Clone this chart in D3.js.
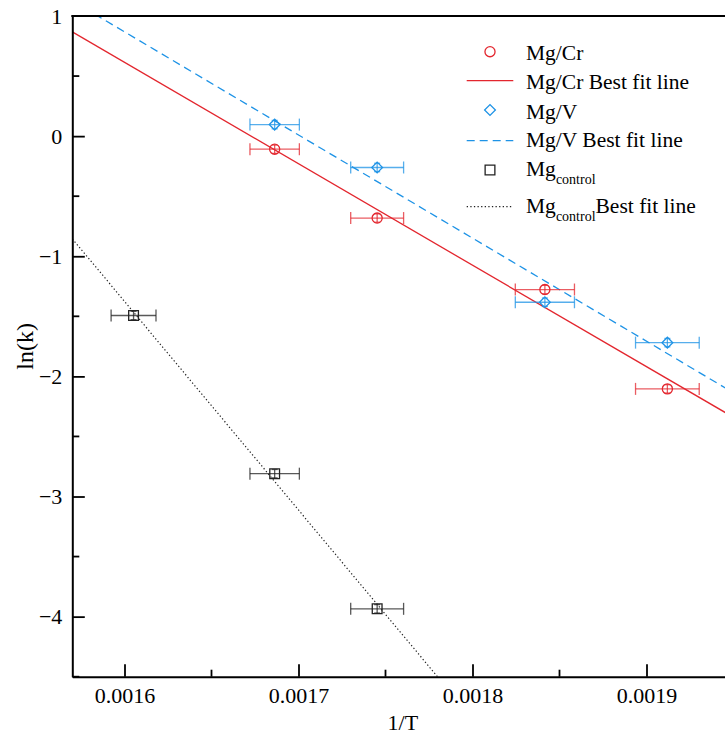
<!DOCTYPE html>
<html>
<head>
<meta charset="utf-8">
<script src="https://cdn.jsdelivr.net/npm/d3@7"></script>
<style>
  html, body { margin: 0; padding: 0; background: #fff; }
  svg { display: block; }
  svg text { font-family: "Liberation Serif", "Times New Roman", serif; }
</style>
</head>
<body>
<svg id="chart" width="725" height="735"></svg>
<script>
// Arrhenius data: 1/T (K^-1) against ln(k)
const crInvT = [0.0016863, 0.0017452, 0.0018416, 0.0019120];
const crLnK  = [-0.109, -0.682, -1.277, -2.104];
const crErrX = [0.0000142, 0.0000152, 0.0000170, 0.0000183];

const vInvT = [0.0016863, 0.0017452, 0.0018416, 0.0019120];
const vLnK  = [0.096, -0.261, -1.383, -1.719];
const vErrX = [0.0000142, 0.0000152, 0.0000170, 0.0000183];

const ctlInvT = [0.0016052, 0.0016863, 0.0017452];
const ctlLnK  = [-1.493, -2.810, -3.935];
const ctlErrX = [0.0000129, 0.0000142, 0.0000152];

const lnKErr = 0.035;

const xTicks = [0.0016, 0.0017, 0.0018, 0.0019];
const xMinorTicks = [0.00165, 0.00175, 0.00185];
const yTicks = [-4, -3, -2, -1, 0, 1];
const yMinorTicks = [-4.5, -3.5, -2.5, -1.5, -0.5, 0.5];

const RED = "#e3262e";
const BLUE = "#1e93e6";
const BLACK = "#222";
const SERIF = "Liberation Serif";

const svg = d3.select("#chart");
const plotL = 72.3, plotR = 733.5, plotT = 16, plotB = 676.7;

const x = d3.scaleLinear().domain([0.00157, 0.00195]).range([plotL, plotR]);
const y = d3.scaleLinear().domain([-4.5, 1]).range([plotB, plotT]);

svg.append("defs").append("clipPath").attr("id", "plot")
  .append("rect").attr("x", plotL).attr("y", plotT)
  .attr("width", plotR - plotL).attr("height", plotB - plotT);

// least-squares fit of ln(k) on 1/T
function fit(xs, ys) {
  const mx = d3.mean(xs), my = d3.mean(ys);
  let sxy = 0, sxx = 0;
  xs.forEach((v, i) => { sxy += (v - mx) * (ys[i] - my); sxx += (v - mx) ** 2; });
  const slope = sxy / sxx;
  return t => my + slope * (t - mx);
}

const series = [
  { xs: crInvT, ys: crLnK, ex: crErrX, color: RED, shape: "circle", dash: null, width: 1.3 },
  { xs: vInvT, ys: vLnK, ex: vErrX, color: BLUE, shape: "diamond", dash: "8,5", width: 1.3 },
  { xs: ctlInvT, ys: ctlLnK, ex: ctlErrX, color: BLACK, shape: "square", dash: "1.3,2.3", width: 1.2 }
];

const lines = svg.append("g").attr("clip-path", "url(#plot)");
series.forEach(s => {
  const f = fit(s.xs, s.ys);
  const dom = x.domain();
  lines.append("line")
    .attr("x1", x(dom[0])).attr("y1", y(f(dom[0])))
    .attr("x2", x(dom[1])).attr("y2", y(f(dom[1])))
    .attr("stroke", s.color).attr("stroke-width", s.width)
    .attr("stroke-dasharray", s.dash);
});

// markers: circle, square, and a square turned 45 degrees for the diamond
const symbols = {
  circle: { path: d3.symbol().type(d3.symbolCircle).size(80)(), rot: 0 },
  diamond: { path: d3.symbol().type(d3.symbolSquare).size(58)(), rot: 45 },
  square: { path: d3.symbol().type(d3.symbolSquare).size(95)(), rot: 0 }
};

function drawMarker(g, shape, cx, cy, color) {
  g.append("path").attr("d", symbols[shape].path)
    .attr("transform", `translate(${cx},${cy}) rotate(${symbols[shape].rot})`)
    .attr("fill", "none").attr("stroke", color).attr("stroke-width", 1.3);
}

const pts = svg.append("g");
series.forEach(s => {
  s.xs.forEach((v, i) => {
    const cx = x(v), cy = y(s.ys[i]);
    const x0 = x(v - s.ex[i]), x1 = x(v + s.ex[i]);
    const eg = pts.append("g").attr("stroke", s.color).attr("stroke-width", 1.3).attr("stroke-opacity", 0.75);
    eg.append("line").attr("x1", x0).attr("x2", x1).attr("y1", cy).attr("y2", cy);
    eg.append("line").attr("x1", x0).attr("x2", x0).attr("y1", cy - 6).attr("y2", cy + 6);
    eg.append("line").attr("x1", x1).attr("x2", x1).attr("y1", cy - 6).attr("y2", cy + 6);
    const y0 = y(s.ys[i] - lnKErr), y1 = y(s.ys[i] + lnKErr);
    eg.append("line").attr("x1", cx).attr("x2", cx).attr("y1", y0).attr("y2", y1);
    eg.append("line").attr("x1", cx - 3).attr("x2", cx + 3).attr("y1", y0).attr("y2", y0);
    eg.append("line").attr("x1", cx - 3).attr("x2", cx + 3).attr("y1", y1).attr("y2", y1);
    drawMarker(pts, s.shape, cx, cy, s.color);
  });
});

// axes
const fontSize = 22;
const xAxis = svg.append("g").attr("transform", `translate(0,${plotB})`)
  .call(d3.axisBottom(x).tickValues(xTicks).tickFormat(d3.format(".4f"))
    .tickSize(-12.5).tickSizeOuter(0).tickPadding(11));
xAxis.append("g").selectAll("line").data(xMinorTicks).join("line")
  .attr("x1", d => x(d)).attr("x2", d => x(d)).attr("y1", 0).attr("y2", -7)
  .attr("stroke", "#000");

const yAxis = svg.append("g").attr("transform", `translate(${plotL},0)`)
  .call(d3.axisLeft(y).tickValues(yTicks).tickFormat(d3.format("d"))
    .tickSize(-12.5).tickSizeOuter(0).tickPadding(10));
yAxis.append("g").selectAll("line").data(yMinorTicks).join("line")
  .attr("x1", 0).attr("x2", 7).attr("y1", d => y(d)).attr("y2", d => y(d))
  .attr("stroke", "#000");

[xAxis, yAxis].forEach(a => {
  a.attr("font-family", SERIF).attr("font-size", fontSize);
  a.select(".domain").attr("stroke", "#000").attr("stroke-width", 2);
  a.selectAll("line").attr("stroke", "#000").attr("stroke-width", 1.8);
  a.selectAll("text").style("font-family", SERIF).style("font-size", fontSize + "px").attr("fill", "#000");
});
yAxis.selectAll(".tick").filter(d => d === 1).select("line").remove();

// top frame line
svg.append("line").attr("x1", plotL - 1).attr("x2", plotR).attr("y1", plotT).attr("y2", plotT)
  .attr("stroke", "#000").attr("stroke-width", 2);

// axis titles
svg.append("text").attr("x", (plotL + plotR) / 2).attr("y", 730)
  .attr("text-anchor", "middle").style("font-size", fontSize + "px").text("1/T");
svg.append("text").attr("transform", `translate(33,${(plotT + plotB) / 2}) rotate(-90)`)
  .attr("text-anchor", "middle").style("font-size", "24px").text("ln(k)");

// legend
const legend = svg.append("g");
const lgX0 = 466.7, lgX1 = 513.3, lgMid = 490, lgText = 526;
const legendRows = [
  { kind: "marker", shape: "circle", color: RED, y: 51.7, base: 60, label: ["Mg/Cr"] },
  { kind: "line", color: RED, dash: null, width: 1.3, y: 80.7, base: 89.3, label: ["Mg/Cr Best fit line"] },
  { kind: "marker", shape: "diamond", color: BLUE, y: 110, base: 118.5, label: ["Mg/V"] },
  { kind: "line", color: BLUE, dash: "8,5", width: 1.3, y: 140.7, base: 147.3, label: ["Mg/V Best fit line"] },
  { kind: "marker", shape: "square", color: BLACK, y: 170, base: 176, label: ["Mg", "control", ""] },
  { kind: "line", color: BLACK, dash: "1.3,2.3", width: 1.2, y: 206.7, base: 212.7, label: ["Mg", "control", "Best fit line"] }
];
legendRows.forEach(r => {
  if (r.kind === "marker") {
    drawMarker(legend, r.shape, lgMid, r.y, r.color);
  } else {
    legend.append("line").attr("x1", lgX0).attr("x2", lgX1).attr("y1", r.y).attr("y2", r.y)
      .attr("stroke", r.color).attr("stroke-width", r.width).attr("stroke-dasharray", r.dash);
  }
  const t = legend.append("text").attr("x", lgText).attr("y", r.base).style("font-size", "21.5px");
  if (r.label.length === 1) {
    t.text(r.label[0]);
  } else {
    t.append("tspan").text(r.label[0]);
    t.append("tspan").style("font-size", "14px").attr("dy", 8).text(r.label[1]);
    if (r.label[2]) t.append("tspan").attr("dy", -8).text(r.label[2]);
  }
});
</script>
</body>
</html>
